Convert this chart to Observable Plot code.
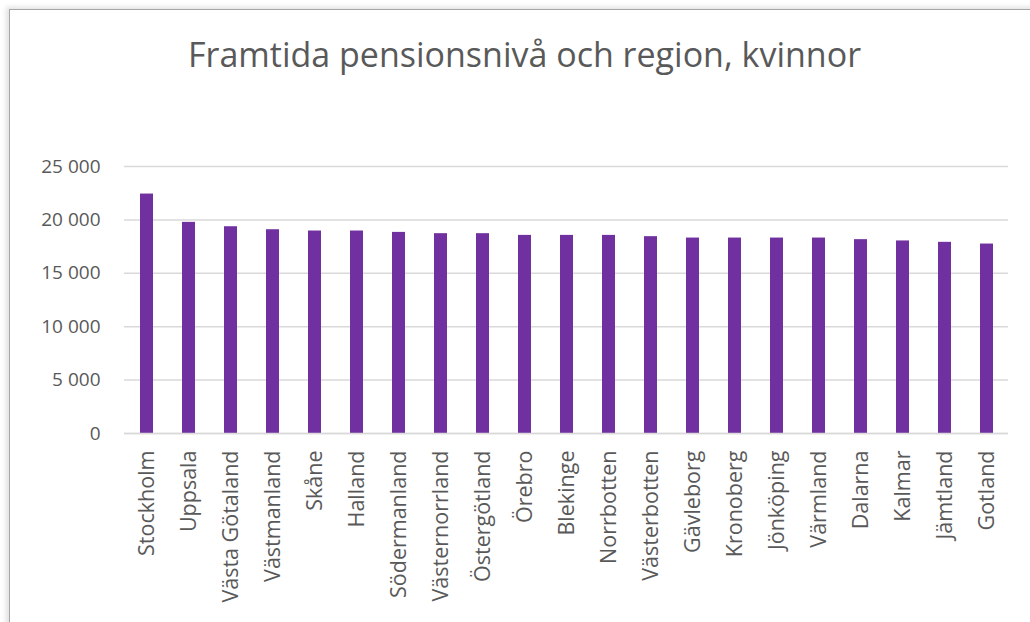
<!DOCTYPE html>
<html>
<head>
<meta charset="utf-8">
<script src="https://cdn.jsdelivr.net/npm/d3@7"></script>
<script src="https://cdn.jsdelivr.net/npm/@observablehq/plot@0.6"></script>
<style>
  html, body { margin: 0; padding: 0; background: #fff; }
  #wrap { position: relative; width: 1030px; height: 622px; overflow: hidden; background: #fff; }
  #frame { position: absolute; left: 9px; top: 9px; width: 1040px; height: 640px;
           border-left: 1px solid #a6a6a6; border-top: 1px solid #a6a6a6;
           box-shadow: -3px -2px 5px rgba(0,0,0,0.12); }
  #title { position: absolute; left: 19px; width: 1011px; top: 34px; text-align: center;
           font-family: "Open Sans", sans-serif; font-size: 34px; color: #595959; line-height: 40px; }
  #chart { position: absolute; left: 0; top: 100px; }
</style>
</head>
<body>
<div id="wrap">
  <div id="frame"></div>
  <div id="title">Framtida pensionsnivå och region, kvinnor</div>
  <div id="chart"></div>
</div>
<script>
const regions = ["Stockholm","Uppsala","Västa Götaland","Västmanland","Skåne","Halland","Södermanland","Västernorrland","Östergötland","Örebro","Blekinge","Norrbotten","Västerbotten","Gävleborg","Kronoberg","Jönköping","Värmland","Dalarna","Kalmar","Jämtland","Gotland"];
const values = [22420,19770,19360,19080,18960,18960,18830,18710,18710,18550,18550,18550,18430,18300,18300,18300,18300,18150,18030,17900,17740];
const yTicks = [0,5000,10000,15000,20000,25000];

const data = regions.map((r, i) => ({region: r, value: values[i]}));
const fmt = d => d3.format(",")(d).replace(/,/g, "\u00a0");

const chart = Plot.plot({
  width: 1030,
  height: 522,
  marginTop: 66,
  marginBottom: 189,
  marginLeft: 124,
  marginRight: 22,
  style: {fontFamily: "Open Sans, sans-serif", fontSize: "19px", color: "#595959", background: "transparent"},
  x: {domain: regions, paddingInner: 0.7, paddingOuter: 0.35, label: null},
  y: {domain: [0, 25000], label: null},
  marks: [
    Plot.gridY(yTicks, {stroke: "#d9d9d9", strokeOpacity: 1, strokeWidth: 1.5}),
    Plot.barY(data, {x: "region", y: "value", fill: "#7030a0"}),
    Plot.ruleY([0], {stroke: "#d9d9d9", strokeWidth: 1.5}),
    Plot.axisY(yTicks, {tickSize: 0, tickPadding: 24, tickFormat: fmt, fill: "#595959", fontSize: 19}),
    Plot.axisX({tickSize: 0, tickPadding: 17, tickRotate: -90, fill: "#595959", fontSize: 21.5})
  ]
});
document.getElementById("chart").appendChild(chart);
</script>
</body>
</html>
